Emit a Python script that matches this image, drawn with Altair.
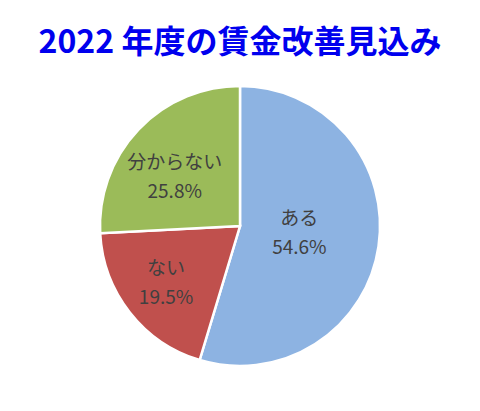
import altair as alt
import pandas as pd
import math

categories = ["ある", "ない", "分からない"]
values = [54.6, 19.5, 25.8]
colors = ["#8DB3E2", "#C0504D", "#9BBB59"]
title_text = "2022 年度の賃金改善見込み"

df = pd.DataFrame({"category": categories, "value": values})
df["label"] = [f"{c}\n{v:.1f}%" for c, v in zip(categories, values)]

order_expr = "indexof(" + str(categories).replace("'", '"') + ", datum.category)"

theta_scale = alt.Scale(domain=[0, 1], range=[0, 2 * math.pi])

base = (
    alt.Chart(df)
    .transform_calculate(idx=order_expr)
    .transform_joinaggregate(total="sum(value)")
    .transform_window(cum="sum(value)", sort=[alt.SortField("idx")], frame=[None, 0])
    .transform_calculate(
        start="(datum.cum - datum.value) / datum.total",
        end="datum.cum / datum.total",
    )
    .transform_calculate(mid="(datum.start + datum.end) / 2")
)

cx, cy = 232, 148

pie = base.mark_arc(outerRadius=140, stroke="white", strokeWidth=2.5).encode(
    theta=alt.Theta("start:Q", scale=theta_scale, stack=False),
    theta2="end:Q",
    color=alt.Color("category:N", scale=alt.Scale(domain=categories, range=colors), legend=None),
    x=alt.value(cx), y=alt.value(cy),
)

def label_layer(filt, r, dy):
    return base.transform_filter(filt).mark_text(
        font="Noto Sans CJK JP", fontSize=19, color="#404040", lineBreak="\n",
        lineHeight=29, baseline="middle", align="center", dy=dy,
    ).encode(
        theta=alt.Theta("mid:Q", scale=theta_scale, stack=False),
        text="label:N",
        x=alt.value(cx), y=alt.value(cy),
        radius=alt.value(r),
    )

lab1 = label_layer(alt.datum.category == "ある", 60, -16)
lab2 = label_layer(alt.datum.category == "ない", 94, -15)
lab3 = label_layer(alt.datum.category == "分からない", 90, -1)

chart = alt.layer(pie, lab1, lab2, lab3).properties(
    width=464, height=325,
    autosize=alt.AutoSizeParams(type="none"),
    padding={"left": 0, "top": 70, "right": 0, "bottom": 0},
    title=alt.TitleParams(
        text=title_text, font="Noto Sans CJK JP", fontSize=32, fontWeight="bold",
        color="#0000EE", anchor="middle", offset=18,
    ),
).configure_view(stroke=None)

chart.save("out.html", embed_options={"renderer": "svg", "actions": False})
